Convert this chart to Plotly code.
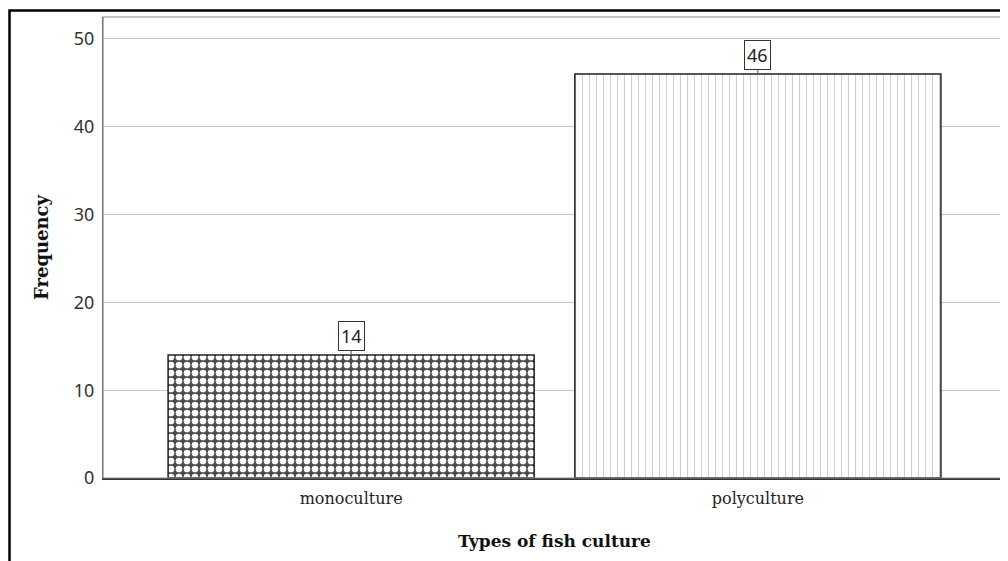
import plotly.graph_objects as go

categories = ["monoculture", "polyculture"]
frequencies = [14, 46]
y_ticks = [0, 10, 20, 30, 40, 50]

# page has an 8px body margin, so the figure is 1000x553 drawn at (8, 8)
W, H = 1000, 553
L, R, T, B = 95, 2, 9, 83
pw, ph = W - L - R, H - T - B

def px_x(p):
    return (p - L) / pw

def px_y(p):
    return (H - B - p) / ph

fig = go.Figure()
patterns = [
    dict(shape=".", fgcolor="white", bgcolor="#4a4a4a", size=8, solidity=0.55, fillmode="replace"),
    dict(shape="|", fgcolor="#a0a0a0", bgcolor="white", size=7, solidity=0.14, fillmode="overlay"),
]
for i, (c, v) in enumerate(zip(categories, frequencies)):
    fig.add_trace(go.Bar(
        x=[c], y=[v], width=0.9,
        marker=dict(color="white", pattern=patterns[i], line=dict(color="#222", width=1.5)),
        showlegend=False, hoverinfo="skip",
    ))
    fig.add_annotation(
        x=c, y=v, text=str(v), showarrow=True, arrowhead=0, arrowwidth=1, arrowcolor="#555",
        ax=0, ay=-4, yanchor="bottom", xanchor="center",
        bordercolor="#333", borderwidth=1, borderpad=2, bgcolor="white",
        font=dict(family="Noto Sans", size=18, color="#222"),
    )

fig.update_layout(
    width=W, height=H,
    margin=dict(l=L, r=R, t=T, b=B),
    paper_bgcolor="white", plot_bgcolor="white",
    bargap=0.1,
    xaxis=dict(
        range=[-0.61, 1.61], showgrid=False, showline=True, linecolor="#333", linewidth=1.5,
        ticks="", ticklabelstandoff=5, tickfont=dict(family="DejaVu Serif", size=16, color="#222"),
        title=dict(text="<b>Types of fish culture</b>", font=dict(family="DejaVu Serif", size=17, color="#111"), standoff=28),
    ),
    yaxis=dict(
        range=[0, 52.5], tickvals=y_ticks, showgrid=True, gridcolor="#c8c8c8", gridwidth=1,
        showline=True, linecolor="#555", linewidth=1.2, ticks="", zeroline=False,
        ticklabelstandoff=4, tickfont=dict(family="Noto Sans", size=18, color="#333"),
        title=dict(text="<b>Frequency</b>", font=dict(family="DejaVu Serif", size=18, color="#111"), standoff=20),
    ),
    shapes=[
        dict(type="rect", xref="paper", yref="paper", x0=0, y0=0, x1=1, y1=1,
             line=dict(color="#888", width=1.2), layer="above"),
        dict(type="rect", xref="paper", yref="paper", x0=px_x(1.5), y0=px_y(570), x1=px_x(1010), y1=px_y(2.5),
             line=dict(color="black", width=2.5), layer="above"),
    ],
)

fig.write_html("out.html")
